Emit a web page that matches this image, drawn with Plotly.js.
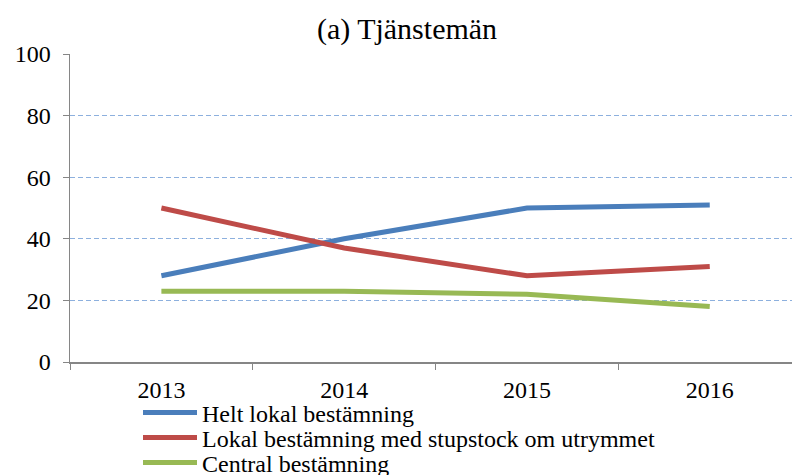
<!DOCTYPE html>
<html>
<head>
<meta charset="utf-8">
<script src="https://cdn.plot.ly/plotly-3.0.1.min.js"></script>
<style>html,body{margin:0;padding:0;background:#fff;}#chart{width:792px;height:475px;}</style>
</head>
<body>
<div id="chart"></div>
<script>
const years = ["2013", "2014", "2015", "2016"];
const heltLokal = [28, 40, 50, 51];
const lokalStupstock = [50, 37, 28, 31];
const central = [23, 23, 22, 18];
const seriesNames = ["Helt lokal bestämning", "Lokal bestämning med stupstock om utrymmet", "Central bestämning"];
const yTicks = [0, 20, 40, 60, 80, 100];

const font = "Liberation Serif";
function trace(y, name, color, leg) {
  return {x: years, y: y, name: name, type: "scatter", mode: "lines",
    line: {color: color, width: 5}, hoverinfo: "skip", legend: leg};
}
const data = [
  trace(heltLokal, seriesNames[0], "#4A7EBB", "legend"),
  trace(lokalStupstock, seriesNames[1], "#BE4B48", "legend2"),
  trace(central, seriesNames[2], "#98B954", "legend3")
];
function leg(yPix) {
  return {orientation: "v", xref: "container", x: 138 / 792, xanchor: "left",
    yref: "container", y: (475 - yPix) / 475, yanchor: "middle",
    font: {family: font, size: 24, color: "#000"}, bgcolor: "rgba(0,0,0,0)",
    borderwidth: 0, itemwidth: 54};
}
const layout = {
  width: 792, height: 475,
  margin: {l: 70, r: 0, t: 54, b: 113, autoexpand: false},
  paper_bgcolor: "#fff", plot_bgcolor: "#fff",
  font: {family: font, size: 24, color: "#000"},
  title: {text: "(a) Tjänstemän", font: {family: font, size: 30, color: "#000"},
    x: 407 / 792, xref: "container", xanchor: "center", y: (475 - 28) / 475, yref: "container", yanchor: "middle"},
  xaxis: {type: "category", range: [-0.5, 3.45], showgrid: false, zeroline: false,
    showline: true, linecolor: "#868686", linewidth: 1.5,
    ticks: "outside", tickson: "boundaries", ticklen: 6, tickcolor: "#868686",
    ticklabelstandoff: 6,
    tickfont: {family: font, size: 24, color: "#000"}, fixedrange: true, tickangle: 0},
  yaxis: {range: [0, 100], tickvals: yTicks, ticktext: yTicks.map(String),
    showgrid: true, gridcolor: "#8DB0DE", griddash: "5px,3px", gridwidth: 1,
    zeroline: false, showline: true, linecolor: "#868686", linewidth: 1.5,
    ticks: "outside", ticklen: 6, tickcolor: "#868686",
    ticklabelstandoff: 7,
    tickfont: {family: font, size: 24, color: "#000"}, fixedrange: true},
  showlegend: true,
  legend: leg(413),
  legend2: leg(438),
  legend3: leg(463)
};
Plotly.newPlot("chart", data, layout, {displayModeBar: false, staticPlot: true});
</script>
</body>
</html>
